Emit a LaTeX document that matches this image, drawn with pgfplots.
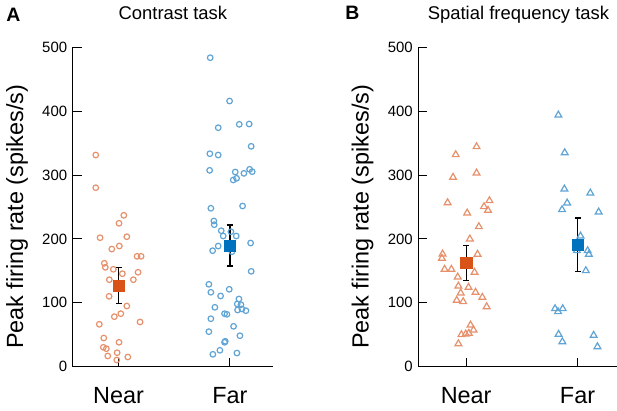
\documentclass[border=0pt]{standalone}
\usepackage{pgfplots}
\pgfplotsset{compat=1.18}
\usepackage{fontspec}
\setmainfont{Liberation Sans}
\definecolor{nearc}{RGB}{230,145,108}
\definecolor{farc}{RGB}{96,164,213}
\definecolor{nearm}{HTML}{D95319}
\definecolor{farm}{HTML}{0072BD}
\pgfplotsset{panel/.style={
  scale only axis, width=200.4bp, height=319.4bp,
  anchor=south west,
  xmin=0.588, xmax=2.388,
  ymin=0, ymax=500, ytick={0,100,...,500},
  xtick={1,2}, xticklabels={Near,Far},
  axis x line*=bottom, axis y line*=left,
  tick align=inside, major tick length=9bp,
  axis line style={line width=0.9bp, black},
  tick style={line width=0.9bp, black},
  /pgf/number format/assume math mode=true,
  yticklabel style={font=\fontsize{15}{18}\selectfont, xshift=-2bp},
  xticklabel style={font=\fontsize{23.5}{28}\selectfont, anchor=base, yshift=-36.6bp},
  ylabel={Peak firing rate (spikes/s)},
  ylabel style={font=\fontsize{23.5}{28}\selectfont, at={(axis description cs:-0.278,0.469)}, anchor=center},
  title style={font=\fontsize{18.5}{22}\selectfont, at={(axis description cs:0.5,1)}, anchor=base, yshift=21.6bp},
  clip=false,
}}
\begin{document}
\begin{tikzpicture}
\useasboundingbox (0,0) rectangle (617bp,411bp);
% ---------------- Panel A ----------------
\begin{axis}[panel, at={(72.7bp,44.3bp)}, title={Contrast task}]
\addplot[only marks, mark=o, mark size=2.8bp, color=nearc, mark options={line width=1.2bp}] coordinates {
(0.795,331.4) (0.795,280.2) (1.047,237.0) (1.004,224.5) (0.834,201.9) (1.074,203.5)
(1.007,188.9) (0.939,184.2) (1.166,172.8) (1.202,172.8) (0.872,161.9) (0.881,155.6)
(0.953,152.5) (1.034,145.6) (1.175,147.8) (0.917,136.2) (1.133,136.2) (0.915,110.2)
(1.074,95.0) (0.962,78.3) (1.020,83.0) (0.827,66.4) (1.193,70.0) (0.867,44.9)
(0.863,30.4) (0.890,28.2) (1.004,38.2) (0.903,16.8) (0.987,21.9) (0.984,10.5) (1.083,15.2)
};
\addplot[only marks, mark=o, mark size=2.8bp, color=farc, mark options={line width=1.2bp}] coordinates {
(1.823,483.7) (1.997,415.9) (1.895,374.1) (2.084,379.4) (2.173,379.9) (2.191,345.0)
(1.820,333.4) (1.895,331.4) (1.818,307.4) (2.048,304.8) (2.030,292.3) (2.060,294.9)
(2.126,302.7) (2.177,309.0) (2.200,305.3) (1.829,248.0) (2.114,251.6) (1.856,228.1)
(1.859,222.3) (1.922,212.9) (2.009,211.3) (1.940,204.6) (2.057,204.6) (1.895,188.9)
(1.845,181.6) (2.186,193.6) (2.018,180.0) (2.191,149.3) (1.811,129.0) (1.829,116.5)
(1.994,121.2) (1.916,110.7) (2.081,106.0) (2.066,98.2) (2.099,97.1) (1.865,93.0)
(2.069,88.8) (2.108,90.3) (2.144,87.7) (1.952,83.0) (1.973,82.0) (1.829,75.1)
(2.033,63.2) (1.811,54.8) (2.090,48.5) (1.958,39.8) (1.952,38.2) (1.910,25.7)
(1.847,19.4) (2.063,21.4)
};
\addplot[draw=none, mark=none, error bars/.cd, y dir=both, y explicit,
  error bar style={black, line width=1.3bp},
  error mark options={black, line width=1.3bp, mark size=3bp, rotate=90}] coordinates {
(1,126.8) += (0,28.8) -= (0,28.2)
(2,189.0) += (0,32.8) -= (0,31.4)
};
\addplot[only marks, mark=square*, mark size=5.6bp, color=nearm] coordinates {(1,126.8)};
\addplot[only marks, mark=square*, mark size=5.6bp, color=farm] coordinates {(2,189.0)};
\end{axis}
% ---------------- Panel B ----------------
\begin{axis}[panel, at={(418.3bp,44.3bp)}, xmin=0.570, xmax=2.370, title={Spatial frequency task}]
\addplot[only marks, mark=triangle, mark size=3.9bp, color=nearc, mark options={line width=1.2bp}] coordinates {
(1.093,344.4) (0.906,331.9) (1.093,303.2) (0.882,296.5) (1.209,259.9) (0.833,256.7)
(1.160,250.5) (1.196,244.8) (1.009,240.6) (1.114,219.2) (1.033,199.9) (0.788,176.4)
(0.782,169.7) (1.102,176.0) (0.806,152.5) (0.867,152.5) (1.075,147.8) (0.924,140.4)
(0.930,126.3) (1.021,124.3) (0.951,115.4) (1.084,116.5) (1.145,108.6) (0.915,103.9)
(0.973,101.8) (1.184,93.9) (1.039,65.3) (1.066,57.5) (1.024,52.3) (0.996,51.2)
(0.957,50.1) (0.930,36.0)
};
\addplot[only marks, mark=triangle, mark size=3.9bp, color=farc, mark options={line width=1.2bp}] coordinates {
(1.828,394.0) (1.885,335.0) (1.882,278.2) (2.115,271.9) (1.907,256.3) (1.861,245.8)
(2.190,242.2) (2.027,204.6) (1.994,181.6) (2.091,181.6) (2.102,176.0) (2.075,150.3)
(1.798,90.8) (1.867,90.8) (1.825,86.1) (1.830,50.7) (1.864,39.1) (2.145,49.2) (2.179,31.3)
};
\addplot[draw=none, mark=none, error bars/.cd, y dir=both, y explicit,
  error bar style={black, line width=1.3bp},
  error mark options={black, line width=1.3bp, mark size=3bp, rotate=90}] coordinates {
(1,163.4) += (0,26.6) -= (0,28.1)
(2,191.6) += (0,41.2) -= (0,42.3)
};
\addplot[only marks, mark=square*, mark size=5.6bp, color=nearm] coordinates {(1,163.4)};
\addplot[only marks, mark=square*, mark size=5.6bp, color=farm] coordinates {(2,191.6)};
\end{axis}
\node[font=\bfseries\fontsize{19.5}{23}\selectfont, anchor=base] at (13.4bp,389.3bp) {A};
\node[font=\bfseries\fontsize{19.5}{23}\selectfont, anchor=base] at (352.5bp,391bp) {B};
\end{tikzpicture}
\end{document}
